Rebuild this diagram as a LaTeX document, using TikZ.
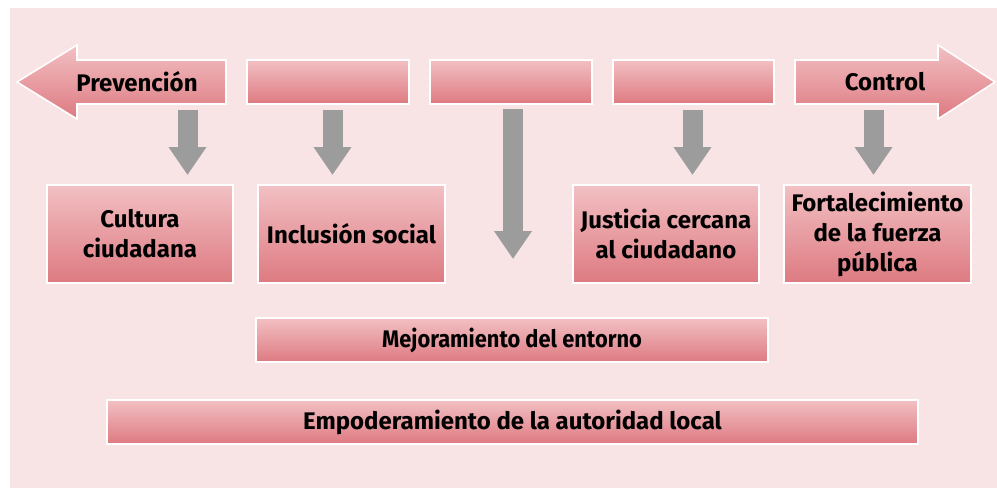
\documentclass[tikz,border=0pt]{standalone}
\usepackage{fontspec}
\setmainfont{Fira Sans}
\usetikzlibrary{arrows.meta}
\definecolor{bgpink}{HTML}{F8E3E5}
\definecolor{boxtop}{HTML}{F2C0C3}
\definecolor{boxbot}{HTML}{DD7A81}
\definecolor{arrgray}{HTML}{9C9C9C}
\tikzset{
  pbox/.style={draw=white, line width=1.6pt, top color=boxtop, bottom color=boxbot,
    inner sep=0pt, align=center, text=black,
    font=\fontsize{24}{30}\selectfont\bfseries},
  pshape/.style={draw=white, line width=1.6pt, top color=boxtop, bottom color=boxbot},
  lbl/.style={text=black, font=\fontsize{24}{30}\selectfont\bfseries, inner sep=0pt},
  garrow/.style={draw=arrgray, line width=20pt,
    -{Triangle[width=36pt,length=28pt]}}
}
\begin{document}
\begin{tikzpicture}[x=1pt,y=-1pt]
\useasboundingbox (0,0) rectangle (997,488);
\fill[bgpink] (10,8) rectangle (997,488);
% top arrows
\shade[pshape] (17,82) -- (77,45) -- (77,60) -- (226,60) -- (226,104) -- (77,104) -- (77,119) -- cycle;
\node[lbl] (prev) at (137,82) {Prevención};
\shade[pshape] (995,82) -- (938,45) -- (938,60) -- (795,60) -- (795,104) -- (938,104) -- (938,119) -- cycle;
\node[lbl] (ctrl) at (885,82) {Control};
% top boxes
\node[pbox, minimum width=162pt, minimum height=44pt] (b2) at (328,82) {};
\node[pbox, minimum width=162pt, minimum height=44pt] (b3) at (511,82) {};
\node[pbox, minimum width=161pt, minimum height=44pt] (b4) at (693.5,82) {};
% second row
\node[pbox, minimum width=186pt, minimum height=98pt] (cult) at (140,234) {Cultura\\ciudadana};
\node[pbox, minimum width=187pt, minimum height=98pt] (incl) at (351.5,234) {Inclusión social};
\node[pbox, minimum width=186pt, minimum height=98pt] (just) at (666,234) {Justicia cercana\\al ciudadano};
\node[pbox, minimum width=187pt, minimum height=98pt] (fort) at (877.5,234) {Fortalecimiento\\de la fuerza\\pública};
% bottom bars
\node[pbox, minimum width=512pt, minimum height=44pt] (mejo) at (512,340) {\scalebox{0.91}[1]{Mejoramiento del entorno}};
\node[pbox, minimum width=811pt, minimum height=44pt] (empo) at (512.5,422) {Empoderamiento de la autoridad local};
% gray arrows
\coordinate (a1s) at (187.5,110); \coordinate (a1e) at (187.5,175);
\coordinate (a2s) at (332.5,110); \coordinate (a2e) at (332.5,175);
\coordinate (a3s) at (513,109);   \coordinate (a3e) at (513,259);
\coordinate (a4s) at (692.5,110); \coordinate (a4e) at (692.5,175);
\coordinate (a5s) at (873.5,110); \coordinate (a5e) at (873.5,175);
\draw[garrow] (a1s) -- (a1e);
\draw[garrow] (a2s) -- (a2e);
\draw[garrow] (a3s) -- (a3e);
\draw[garrow] (a4s) -- (a4e);
\draw[garrow] (a5s) -- (a5e);
\end{tikzpicture}
\end{document}
